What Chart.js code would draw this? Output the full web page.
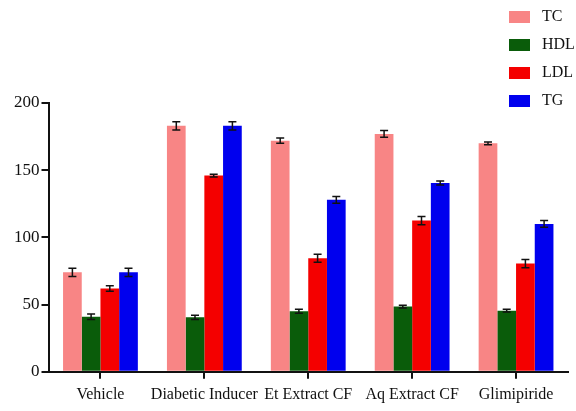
<!DOCTYPE html>
<html>
<head>
<meta charset="utf-8">
<script src="https://cdn.jsdelivr.net/npm/chart.js@4/dist/chart.umd.min.js"></script>
<style>
  html, body { margin: 0; padding: 0; background: #fff; }
  #wrap { width: 576px; height: 411px; }
</style>
</head>
<body>
<div id="wrap"><canvas id="lipidChart"></canvas></div>
<script>
// groups and values
var groups = ["Vehicle", "Diabetic Inducer", "Et Extract CF", "Aq Extract CF", "Glimipiride"];
var tcValues = [74, 183, 172, 177, 170];
var hdlValues = [41, 40.5, 45, 48.5, 45.5];
var ldlValues = [62, 146, 84.5, 112.5, 80.5];
var tgValues = [74, 183, 128, 140.5, 110];
// error bars (+/-)
var tcErr = [3, 3, 2, 2.5, 1];
var hdlErr = [2, 1.5, 1.5, 1, 1];
var ldlErr = [2, 1, 3, 3, 3];
var tgErr = [3, 3, 2.5, 1.5, 2.5];
var yTicks = [0, 50, 100, 150, 200];

var serif = "Liberation Serif";

// error bar drawing, on top of the bars
var errorBars = {
    id: "errorBars",
    afterDatasetsDraw(chart) {
        var ctx = chart.ctx;
        var yScale = chart.scales.y;
        ctx.save();
        ctx.strokeStyle = "#111";
        ctx.lineWidth = 1.5;
        chart.data.datasets.forEach((ds, i) => {
            var meta = chart.getDatasetMeta(i);
            meta.data.forEach((bar, j) => {
                var v = ds.data[j];
                var e = ds.errors[j];
                var yTop = yScale.getPixelForValue(v + e);
                var yBot = yScale.getPixelForValue(v - e);
                var half = 4;
                ctx.beginPath();
                ctx.moveTo(bar.x, yTop);
                ctx.lineTo(bar.x, yBot);
                ctx.moveTo(bar.x - half, yTop);
                ctx.lineTo(bar.x + half, yTop);
                ctx.moveTo(bar.x - half, yBot);
                ctx.lineTo(bar.x + half, yBot);
                ctx.stroke();
            });
        });
        ctx.restore();
    }
};

// vertical legend in the top right corner
var cornerLegend = {
    id: "cornerLegend",
    afterDraw(chart) {
        var ctx = chart.ctx;
        ctx.save();
        ctx.font = "16px " + serif;
        ctx.textBaseline = "middle";
        chart.data.datasets.forEach((ds, i) => {
            var cy = 17 + i * 28;
            ctx.fillStyle = ds.backgroundColor;
            ctx.fillRect(509, cy - 6, 21, 12);
            ctx.fillStyle = "#111";
            ctx.fillText(ds.label, 542, cy);
        });
        ctx.restore();
    }
};

var ctx = document.getElementById("lipidChart");
var lipidChart = new Chart(ctx, {
    type: "bar",
    data: {
        labels: groups,
        datasets: [
            { label: "TC", data: tcValues, errors: tcErr, backgroundColor: "#F88585" },
            { label: "HDL", data: hdlValues, errors: hdlErr, backgroundColor: "#0A5C0A" },
            { label: "LDL", data: ldlValues, errors: ldlErr, backgroundColor: "#F40000" },
            { label: "TG", data: tgValues, errors: tgErr, backgroundColor: "#0000EE" }
        ]
    },
    options: {
        responsive: true,
        maintainAspectRatio: false,
        animation: false,
        layout: { padding: { top: 103, left: 12, right: 8, bottom: 1 } },
        datasets: {
            bar: { categoryPercentage: 0.72, barPercentage: 1.0 }
        },
        plugins: {
            legend: { display: false },
            tooltip: { enabled: false }
        },
        scales: {
            x: {
                grid: {
                    display: true,
                    drawOnChartArea: false,
                    drawTicks: true,
                    tickLength: 7,
                    color: "#111",
                    lineWidth: 2,
                    offset: false
                },
                border: { color: "#111", width: 2 },
                ticks: {
                    color: "#111",
                    font: { family: serif, size: 16 },
                    maxRotation: 0,
                    autoSkip: false,
                    padding: 6
                }
            },
            y: {
                min: 0,
                max: 200,
                afterBuildTicks(axis) {
                    axis.ticks = yTicks.map(v => ({ value: v }));
                },
                grid: {
                    display: true,
                    drawOnChartArea: false,
                    drawTicks: true,
                    tickLength: 7,
                    color: "#111",
                    lineWidth: 2
                },
                border: { color: "#111", width: 2 },
                ticks: {
                    color: "#111",
                    font: { family: serif, size: 17 },
                    padding: 2
                }
            }
        }
    },
    plugins: [errorBars, cornerLegend]
});
</script>
</body>
</html>
